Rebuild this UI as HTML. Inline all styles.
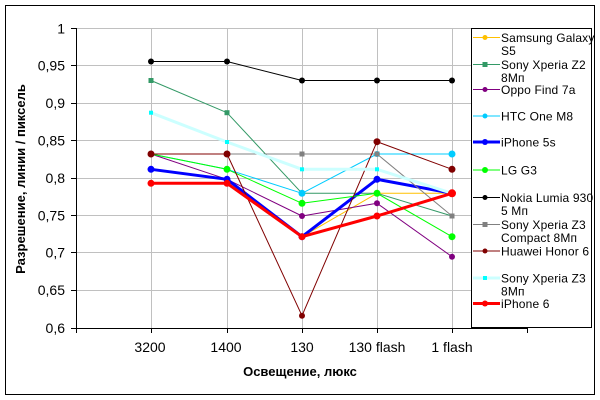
<!DOCTYPE html>
<html>
<head>
<meta charset="utf-8">
<style>
html,body{margin:0;padding:0;background:#fff;}
svg{display:block;}
text{font-family:"Liberation Sans",Arial,sans-serif;fill:#000;}
</style>
</head>
<body>
<svg width="600" height="400" viewBox="0 0 600 400" xmlns="http://www.w3.org/2000/svg">
<rect x="0" y="0" width="600" height="400" fill="#fff"/>
<rect x="5.5" y="5.5" width="589" height="389" fill="#fff" stroke="#000" stroke-width="1"/>

<g stroke="#c0c0c0" stroke-width="1">
<line x1="76" y1="28.5" x2="528" y2="28.5"/>
<line x1="76" y1="65.5" x2="528" y2="65.5"/>
<line x1="76" y1="103.5" x2="528" y2="103.5"/>
<line x1="76" y1="140.5" x2="528" y2="140.5"/>
<line x1="76" y1="178.5" x2="528" y2="178.5"/>
<line x1="76" y1="215.5" x2="528" y2="215.5"/>
<line x1="76" y1="252.5" x2="528" y2="252.5"/>
<line x1="76" y1="290.5" x2="528" y2="290.5"/>
<line x1="151.5" y1="28" x2="151.5" y2="328"/>
<line x1="227.5" y1="28" x2="227.5" y2="328"/>
<line x1="302.5" y1="28" x2="302.5" y2="328"/>
<line x1="377.5" y1="28" x2="377.5" y2="328"/>
<line x1="452.5" y1="28" x2="452.5" y2="328"/>
<line x1="527.5" y1="28" x2="527.5" y2="328"/>
</g>

<g stroke="#000" stroke-width="1">
<line x1="76.5" y1="28" x2="76.5" y2="328.5"/>
<line x1="76" y1="328.5" x2="528" y2="328.5"/>
<line x1="71" y1="28.5" x2="76" y2="28.5"/>
<line x1="71" y1="65.5" x2="76" y2="65.5"/>
<line x1="71" y1="103.5" x2="76" y2="103.5"/>
<line x1="71" y1="140.5" x2="76" y2="140.5"/>
<line x1="71" y1="178.5" x2="76" y2="178.5"/>
<line x1="71" y1="215.5" x2="76" y2="215.5"/>
<line x1="71" y1="252.5" x2="76" y2="252.5"/>
<line x1="71" y1="290.5" x2="76" y2="290.5"/>
<line x1="71" y1="328.5" x2="76" y2="328.5"/>
<line x1="76.5" y1="328" x2="76.5" y2="333"/>
<line x1="151.5" y1="328" x2="151.5" y2="333"/>
<line x1="227.5" y1="328" x2="227.5" y2="333"/>
<line x1="302.5" y1="328" x2="302.5" y2="333"/>
<line x1="377.5" y1="328" x2="377.5" y2="333"/>
<line x1="452.5" y1="328" x2="452.5" y2="333"/>
<line x1="527.5" y1="328" x2="527.5" y2="333"/>
</g>

<g font-size="14" text-anchor="end">
<text x="65" y="33.5">1</text>
<text x="65" y="70.5">0,95</text>
<text x="65" y="108">0,9</text>
<text x="65" y="145.5">0,85</text>
<text x="65" y="183">0,8</text>
<text x="65" y="220.5">0,75</text>
<text x="65" y="257.5">0,7</text>
<text x="65" y="295">0,65</text>
<text x="65" y="333">0,6</text>
</g>

<g font-size="14" text-anchor="middle">
<text x="150" y="352">3200</text>
<text x="226" y="352">1400</text>
<text x="302" y="352">130</text>
<text x="377" y="352">130 flash</text>
<text x="452" y="352">1 flash</text>
</g>

<text x="300" y="376" font-size="13" font-weight="bold" text-anchor="middle">Освещение, люкс</text>
<text transform="translate(25,179) rotate(-90)" font-size="13" font-weight="bold" text-anchor="middle">Разрешение, линии / пиксель</text>

<g fill="none" stroke-linejoin="round">
<polyline points="151,169.3 227,179.3 302,236.7 377,193.3 452,193.3" stroke="#FFC000" stroke-width="1"/>
<polyline points="151,80.5 227,112.7 302,193.3 377,193.3 452,216" stroke="#339966" stroke-width="1"/>
<polyline points="151,154 227,179.3 302,216 377,203.3 452,256.7" stroke="#800080" stroke-width="1"/>
<polyline points="151,154 227,169.3 302,193.3 377,154 452,154" stroke="#00CCFF" stroke-width="1"/>
<polyline points="151,169.3 227,179.3 302,236.7 377,179.3 452,193.3" stroke="#0000FF" stroke-width="3"/>
<polyline points="151,154 227,169.3 302,203.3 377,193.3 452,236.7" stroke="#00FF00" stroke-width="1"/>
<polyline points="151,61.5 227,61.5 302,80.5 377,80.5 452,80.5" stroke="#000000" stroke-width="1"/>
<polyline points="151,154 227,154 302,154 377,154 452,216" stroke="#808080" stroke-width="1"/>
<polyline points="151,154 227,154 302,315.7 377,141.7 452,169.3" stroke="#800000" stroke-width="1"/>
<polyline points="151,112.7 227,142 302,169.3 377,169.3 452,193.3" stroke="#CCFFFF" stroke-width="3"/>
<polyline points="151,183.3 227,183.3 302,236.7 377,216 452,193.3" stroke="#FF0000" stroke-width="3"/>
</g>

<g>
<g fill="#FFC000"><circle cx="151" cy="169.3" r="2.5"/><circle cx="227" cy="179.3" r="2.5"/><circle cx="302" cy="236.7" r="2.5"/><circle cx="377" cy="193.3" r="2.5"/><circle cx="452" cy="193.3" r="2.5"/></g>
<g fill="#339966"><rect x="148.5" y="78" width="5" height="5"/><rect x="224.5" y="110.2" width="5" height="5"/><rect x="299.5" y="190.8" width="5" height="5"/><rect x="374.5" y="190.8" width="5" height="5"/><rect x="449.5" y="213.5" width="5" height="5"/></g>
<g fill="#800080"><circle cx="151" cy="154" r="3"/><circle cx="227" cy="179.3" r="3"/><circle cx="302" cy="216" r="3"/><circle cx="377" cy="203.3" r="3"/><circle cx="452" cy="256.7" r="3"/></g>
<g fill="#00CCFF"><circle cx="151" cy="154" r="3"/><circle cx="227" cy="169.3" r="3"/><circle cx="302" cy="193.3" r="3.5"/><circle cx="377" cy="154" r="3"/><circle cx="452" cy="154" r="3.5"/></g>
<g fill="#0000FF"><circle cx="151" cy="169.3" r="3.5"/><circle cx="227" cy="179.3" r="3.5"/><circle cx="302" cy="236.7" r="3.5"/><circle cx="377" cy="179.3" r="3.5"/><circle cx="452" cy="193.3" r="3.5"/></g>
<g fill="#00FF00"><circle cx="151" cy="154" r="3"/><circle cx="227" cy="169.3" r="3.5"/><circle cx="302" cy="203.3" r="3.5"/><circle cx="377" cy="193.3" r="3.5"/><circle cx="452" cy="236.7" r="3.5"/></g>
<g fill="#000000"><circle cx="151" cy="61.5" r="3"/><circle cx="227" cy="61.5" r="3"/><circle cx="302" cy="80.5" r="3"/><circle cx="377" cy="80.5" r="3"/><circle cx="452" cy="80.5" r="3"/></g>
<g fill="#808080"><rect x="148.5" y="151.5" width="5" height="5"/><rect x="224.5" y="151.5" width="5" height="5"/><rect x="299.5" y="151.5" width="5" height="5"/><rect x="374.5" y="151.5" width="5" height="5"/><rect x="449.5" y="213.5" width="5" height="5"/></g>
<g fill="#800000"><circle cx="151" cy="154" r="3.5"/><circle cx="227" cy="154" r="3.5"/><circle cx="302" cy="315.7" r="3"/><circle cx="377" cy="141.7" r="3.5"/><circle cx="452" cy="169.3" r="3.5"/></g>
<g fill="#00FFFF"><rect x="149" y="110.7" width="4" height="4"/><rect x="225" y="140" width="4" height="4"/><rect x="300" y="167.3" width="4" height="4"/><rect x="375" y="167.3" width="4" height="4"/><rect x="450" y="191.3" width="4" height="4"/></g>
<g fill="#FF0000"><circle cx="151" cy="183.3" r="3.5"/><circle cx="227" cy="183.3" r="3.5"/><circle cx="302" cy="236.7" r="3.5"/><circle cx="377" cy="216" r="3.5"/><circle cx="452" cy="193.3" r="4"/></g>
</g>

<rect x="471.5" y="28.5" width="120" height="299" fill="#fff" stroke="#000" stroke-width="1"/>
<g>
<line x1="473" y1="37.5" x2="500" y2="37.5" stroke="#FFC000" stroke-width="1"/><circle cx="485" cy="37.5" r="2.5" fill="#FFC000"/>
<line x1="473" y1="64.5" x2="500" y2="64.5" stroke="#339966" stroke-width="1"/><rect x="482.5" y="62" width="5" height="5" fill="#339966"/>
<line x1="473" y1="89.5" x2="500" y2="89.5" stroke="#800080" stroke-width="1"/><circle cx="485" cy="89.5" r="2.5" fill="#800080"/>
<line x1="473" y1="116" x2="500" y2="116" stroke="#00CCFF" stroke-width="1"/><circle cx="485" cy="116" r="2.5" fill="#00CCFF"/>
<line x1="473" y1="142" x2="500" y2="142" stroke="#0000FF" stroke-width="3"/><circle cx="485" cy="142" r="3" fill="#0000FF"/>
<line x1="473" y1="170" x2="500" y2="170" stroke="#00FF00" stroke-width="1"/><circle cx="485" cy="170" r="3" fill="#00FF00"/>
<line x1="473" y1="197.5" x2="500" y2="197.5" stroke="#000000" stroke-width="1"/><circle cx="485" cy="197.5" r="2.5" fill="#000"/>
<line x1="473" y1="224.5" x2="500" y2="224.5" stroke="#808080" stroke-width="1"/><rect x="482.5" y="222" width="5" height="5" fill="#808080"/>
<line x1="473" y1="251" x2="500" y2="251" stroke="#800000" stroke-width="1"/><circle cx="485" cy="251" r="2.5" fill="#800000"/>
<line x1="473" y1="278" x2="500" y2="278" stroke="#CCFFFF" stroke-width="3"/><rect x="483" y="276" width="4" height="4" fill="#00FFFF"/>
<line x1="473" y1="303.5" x2="500" y2="303.5" stroke="#FF0000" stroke-width="3"/><circle cx="485" cy="303.5" r="3" fill="#FF0000"/>
</g>
<g font-size="12" letter-spacing="0.15">
<text x="501" y="42">Samsung Galaxy</text>
<text x="501" y="55">S5</text>
<text x="501" y="69">Sony Xperia Z2</text>
<text x="501" y="82">8Мп</text>
<text x="501" y="94">Oppo Find 7a</text>
<text x="501" y="120.5">HTC One M8</text>
<text x="501" y="146.5">iPhone 5s</text>
<text x="501" y="174.5">LG G3</text>
<text x="501" y="202">Nokia Lumia 930</text>
<text x="501" y="215">5 Мп</text>
<text x="501" y="229">Sony Xperia Z3</text>
<text x="501" y="242">Compact 8Мп</text>
<text x="501" y="255.5">Huawei Honor 6</text>
<text x="501" y="282.5">Sony Xperia Z3</text>
<text x="501" y="295.5">8Мп</text>
<text x="501" y="308">iPhone 6</text>
</g>
</svg>
</body>
</html>
